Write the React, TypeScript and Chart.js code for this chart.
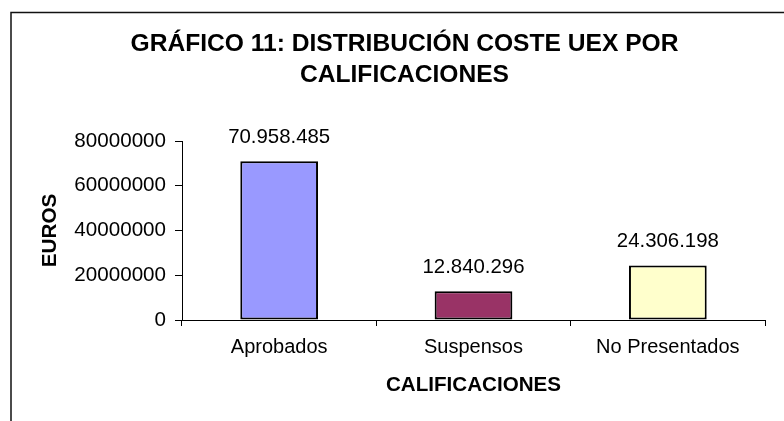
import React, { useEffect, useRef } from "react";
import { Chart, registerables } from "chart.js";

Chart.register(...registerables);

const categories = ["Aprobados", "Suspensos", "No Presentados"];
const values = [70958485, 12840296, 24306198];
const barColors = ["#9999FF", "#993366", "#FFFFCC"];
const titleLines = ["GRÁFICO 11: DISTRIBUCIÓN COSTE UEX POR", "CALIFICACIONES"];
const yAxisTitle = "EUROS";
const xAxisTitle = "CALIFICACIONES";
const yMin = 0;
const yMax = 80000000;
const yStep = 20000000;

const FONT = "'Liberation Sans', Arial, Helvetica, sans-serif";

function formatDots(n: number): string {
  return String(Math.round(n)).replace(/\B(?=(\d{3})+(?!\d))/g, ".");
}

const framePlugin = {
  id: "frame",
  beforeDraw(chart: any) {
    const ctx = chart.ctx;
    ctx.save();
    ctx.strokeStyle = "#111";
    ctx.lineWidth = 1.5;
    ctx.beginPath();
    ctx.moveTo(11, chart.height + 5);
    ctx.lineTo(11, 12.5);
    ctx.lineTo(chart.width + 5, 12.5);
    ctx.stroke();
    ctx.restore();
  },
};

const valueLabelPlugin = {
  id: "valueLabels",
  afterDatasetsDraw(chart: any) {
    const ctx = chart.ctx;
    const meta = chart.getDatasetMeta(0);
    ctx.save();
    ctx.font = `20.4px ${FONT}`;
    ctx.fillStyle = "#000";
    ctx.textAlign = "center";
    ctx.textBaseline = "middle";
    meta.data.forEach((bar: any, i: number) => {
      const v = chart.data.datasets[0].data[i];
      ctx.fillText(formatDots(v), bar.x, bar.y - 24);
    });
    ctx.restore();
  },
};

export default function App() {
  const ref = useRef<HTMLCanvasElement | null>(null);

  useEffect(() => {
    if (!ref.current) return;
    const chart = new Chart(ref.current, {
      type: "bar",
      data: {
        labels: categories,
        datasets: [
          {
            data: values,
            backgroundColor: barColors,
            borderColor: "#000",
            borderWidth: 2,
            borderSkipped: false,
            barPercentage: 0.4,
            categoryPercentage: 1,
          },
        ],
      },
      options: {
        animation: false,
        responsive: false,
        maintainAspectRatio: false,
        layout: { padding: { left: 44, right: 19, top: 0, bottom: 0 } },
        plugins: {
          legend: { display: false },
          tooltip: { enabled: false },
          title: {
            display: true,
            text: titleLines,
            color: "#000",
            font: { family: FONT, size: 24.6, weight: "bold", lineHeight: 31 / 24.6 },
            padding: { top: 28.5, bottom: 50.5 },
          },
        },
        scales: {
          x: {
            grid: {
              display: true,
              offset: true,
              drawOnChartArea: false,
              drawTicks: true,
              tickLength: 6,
              color: "#000",
              tickColor: "#000",
            },
            border: { display: true, color: "#000", width: 1 },
            ticks: {
              color: "#000",
              padding: 9.5,
              maxRotation: 0,
              font: { family: FONT, size: 20 },
            },
            title: {
              display: true,
              text: xAxisTitle,
              color: "#000",
              font: { family: FONT, size: 20.6, weight: "bold", lineHeight: 24 / 20.6 },
              padding: { top: 0, bottom: 23.5 },
            },
            afterFit(scale: any) {
              scale.height = 101;
            },
          },
          y: {
            min: yMin,
            max: yMax,
            grid: {
              display: true,
              drawOnChartArea: false,
              drawTicks: true,
              tickLength: 7,
              color: "#000",
              tickColor: "#000",
            },
            border: { display: true, color: "#000", width: 1 },
            ticks: {
              stepSize: yStep,
              color: "#000",
              padding: 9,
              font: { family: FONT, size: 20.6 },
              callback: (v: any) => String(v),
            },
            title: {
              display: true,
              text: yAxisTitle,
              color: "#000",
              font: { family: FONT, size: 20.7, weight: "bold", lineHeight: 24 / 20.7 },
              padding: { top: -5.5, bottom: 0 },
            },
            afterFit(scale: any) {
              scale.width = 138;
            },
          },
        },
      },
      plugins: [framePlugin, valueLabelPlugin],
    } as any);
    return () => chart.destroy();
  }, []);

  return (
    <div style={{ position: "absolute", left: 0, top: 0, width: 784, height: 421, background: "#fff" }}>
      <canvas ref={ref} width={784} height={421} style={{ display: "block", width: 784, height: 421 }} />
    </div>
  );
}
